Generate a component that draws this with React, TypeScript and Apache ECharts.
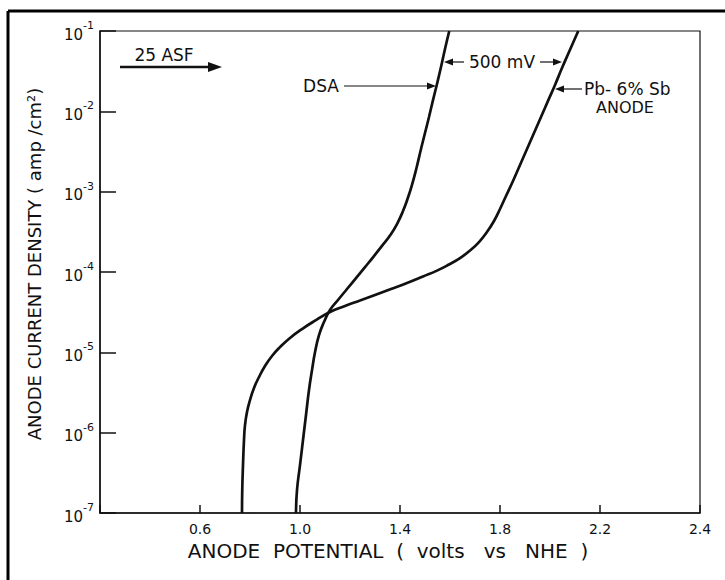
import React, { useEffect, useRef } from 'react';
import * as echarts from 'echarts';

// Pb-6% Sb anode: potential (V vs NHE) and current density (amp/cm²)
const pbSbPotential = [
  0.768, 0.769, 0.772, 0.776, 0.780, 0.788, 0.800, 0.816, 0.836, 0.860, 0.888, 0.920, 0.960,
  1.008, 1.064, 1.12, 1.18, 1.24, 1.30, 1.364, 1.428, 1.492, 1.548, 1.596, 1.64, 1.68, 1.716,
  1.748, 1.776, 1.80, 1.824, 1.852, 1.88, 1.908, 1.936, 1.964, 1.992, 2.02, 2.048, 2.076, 2.113,
];
const pbSbCurrent = [
  1.0e-7, 1.93e-7, 3.95e-7, 8.1e-7, 1.24e-6, 1.81e-6, 2.55e-6, 3.6e-6, 4.93e-6, 6.76e-6, 9.0e-6,
  1.16e-5, 1.51e-5, 1.95e-5, 2.52e-5, 3.18e-5, 3.78e-5, 4.42e-5, 5.18e-5, 6.14e-5, 7.29e-5, 8.79e-5,
  1.04e-4, 1.24e-4, 1.49e-4, 1.85e-4, 2.36e-4, 3.15e-4, 4.31e-4, 6.08e-4, 8.83e-4, 1.36e-3,
  2.15e-3, 3.4e-3, 5.37e-3, 8.5e-3, 1.35e-2, 2.13e-2, 3.46e-2, 5.48e-2, 1.0e-1,
];

// DSA anode: potential (V vs NHE) and current density (amp/cm²)
const dsaPotential = [
  0.984, 0.988, 1.0, 1.012, 1.024, 1.036, 1.048, 1.06, 1.076, 1.096, 1.12, 1.152, 1.188, 1.224,
  1.26, 1.296, 1.328, 1.36, 1.388, 1.412, 1.432, 1.45, 1.466, 1.484, 1.5, 1.516, 1.532, 1.548,
  1.564, 1.58, 1.597,
];
const dsaCurrent = [
  1.0e-7, 1.93e-7, 3.95e-7, 8.1e-7, 1.66e-6, 3.4e-6, 6.0e-6, 1.0e-5, 1.64e-5, 2.38e-5, 3.36e-5,
  4.48e-5, 6.14e-5, 8.4e-5, 1.15e-4, 1.58e-4, 2.11e-4, 2.84e-4, 3.95e-4, 5.74e-4, 8.45e-4,
  1.28e-3, 1.97e-3, 3.4e-3, 5.37e-3, 8.5e-3, 1.38e-2, 2.19e-2, 3.56e-2, 5.97e-2, 1.0e-1,
];

// Axis ticks
const xTickStart = 0.2;
const xTickStep = 0.4;
const xTickLabels = ['', '0.6', '1.0', '1.4', '1.8', '2.2', '2.4'];
const yExponents = [-7, -6, -5, -4, -3, -2, -1];
const yTickBase = '10';

const FONT = '"DejaVu Sans", Arial, sans-serif';
const INK = '#111';

const pairs = (xs: number[], ys: number[]) => xs.map((x, i) => [x, ys[i]]);

export default function App() {
  const ref = useRef<HTMLDivElement>(null);

  useEffect(() => {
    if (!ref.current) return;
    const chart = echarts.init(ref.current, null, { renderer: 'svg' });

    const txt = (text: string, x: number, y: number, align = 'center', size = 16) => ({
      type: 'text',
      x,
      y,
      style: {
        text,
        fill: INK,
        font: `${size}px ${FONT}`,
        align,
        verticalAlign: 'middle',
      },
    });
    const hline = (x1: number, x2: number, y: number, w = 1.2) => ({
      type: 'line',
      shape: { x1, y1: y, x2, y2: y },
      style: { stroke: INK, lineWidth: w },
    });
    const head = (tipX: number, y: number, dir: number, len = 10, half = 4) => ({
      type: 'polygon',
      shape: { points: [[tipX, y], [tipX - dir * len, y - half], [tipX - dir * len, y + half]] },
      style: { fill: INK },
    });

    chart.setOption({
      animation: false,
      backgroundColor: '#fff',
      grid: {
        left: 100,
        right: 25,
        top: 31,
        bottom: 67,
        show: true,
        borderColor: INK,
        borderWidth: 1.2,
        backgroundColor: 'transparent',
      },
      xAxis: {
        type: 'value',
        min: xTickStart,
        max: xTickStart + xTickStep * (xTickLabels.length - 1),
        interval: xTickStep,
        name: 'ANODE  POTENTIAL  (  volts   vs   NHE  )',
        nameLocation: 'middle',
        nameGap: 26,
        nameTextStyle: { color: INK, fontFamily: FONT, fontSize: 20, padding: [0, 24, 0, 0] },
        axisLine: { lineStyle: { color: INK, width: 1.5 } },
        axisTick: { inside: true, length: 8, lineStyle: { color: INK, width: 1.5 } },
        splitLine: { show: false },
        axisLabel: {
          color: INK,
          fontFamily: FONT,
          fontSize: 14,
          margin: 9,
          showMinLabel: true,
          showMaxLabel: true,
          formatter: (v: number) => xTickLabels[Math.round((v - xTickStart) / xTickStep)] ?? '',
        },
      },
      yAxis: {
        type: 'log',
        logBase: 10,
        min: Math.pow(10, yExponents[0]),
        max: Math.pow(10, yExponents[yExponents.length - 1]),
        splitNumber: yExponents.length - 1,
        name: 'ANODE CURRENT DENSITY ( amp /cm²)',
        nameLocation: 'middle',
        nameGap: 57,
        nameTextStyle: { color: INK, fontFamily: FONT, fontSize: 18, padding: [0, 0, 0, 16] },
        axisLine: { lineStyle: { color: INK, width: 1.5 } },
        axisTick: { inside: true, length: 16, lineStyle: { color: INK, width: 1.5 } },
        minorTick: { show: false },
        splitLine: { show: false },
        axisLabel: {
          color: INK,
          margin: 6,
          formatter: (v: number) => {
            const e = Math.round(Math.log10(v));
            return yExponents.includes(e) ? `{b|${yTickBase}}{s|${e}}` : '';
          },
          rich: {
            b: { fontFamily: FONT, fontSize: 15, color: INK, lineHeight: 22, verticalAlign: 'bottom' },
            s: { fontFamily: FONT, fontSize: 11, color: INK, verticalAlign: 'top' },
          },
        },
      },
      series: [
        {
          name: 'Pb-6% Sb',
          type: 'line',
          data: pairs(pbSbPotential, pbSbCurrent),
          smooth: 0.5,
          showSymbol: false,
          lineStyle: { color: INK, width: 2.7 },
        },
        {
          name: 'DSA',
          type: 'line',
          data: pairs(dsaPotential, dsaCurrent),
          smooth: 0.5,
          showSymbol: false,
          lineStyle: { color: INK, width: 2.7 },
        },
      ],
      graphic: [
        // page frame (top and left edges)
        { type: 'line', shape: { x1: 8, y1: 11, x2: 725, y2: 11 }, style: { stroke: '#000', lineWidth: 3 } },
        { type: 'line', shape: { x1: 8, y1: 11, x2: 8, y2: 580 }, style: { stroke: '#000', lineWidth: 3 } },
        // current density marker
        txt('25 ASF', 164, 55, 'center', 17),
        hline(120, 210, 67, 2.5),
        head(222, 67, 1, 14, 5),
        // DSA label
        txt('DSA', 321, 86, 'center', 17),
        hline(344, 428, 86),
        head(436, 86, 1, 9, 3.5),
        // 500 mV spacing
        head(444, 62, -1, 9, 3.5),
        hline(452, 464, 62),
        txt('500 mV', 502, 62, 'center', 17),
        hline(540, 554, 62),
        head(562, 62, 1, 9, 3.5),
        // Pb-6% Sb label
        head(555, 89, -1, 9, 3.5),
        hline(563, 582, 89),
        txt('Pb- 6% Sb', 584, 89, 'left', 17),
        txt('ANODE', 625, 107, 'center', 16),
      ],
    });

    return () => chart.dispose();
  }, []);

  return (
    <div
      ref={ref}
      style={{ position: 'fixed', left: 0, top: 0, width: 725, height: 580, background: '#fff' }}
    />
  );
}
